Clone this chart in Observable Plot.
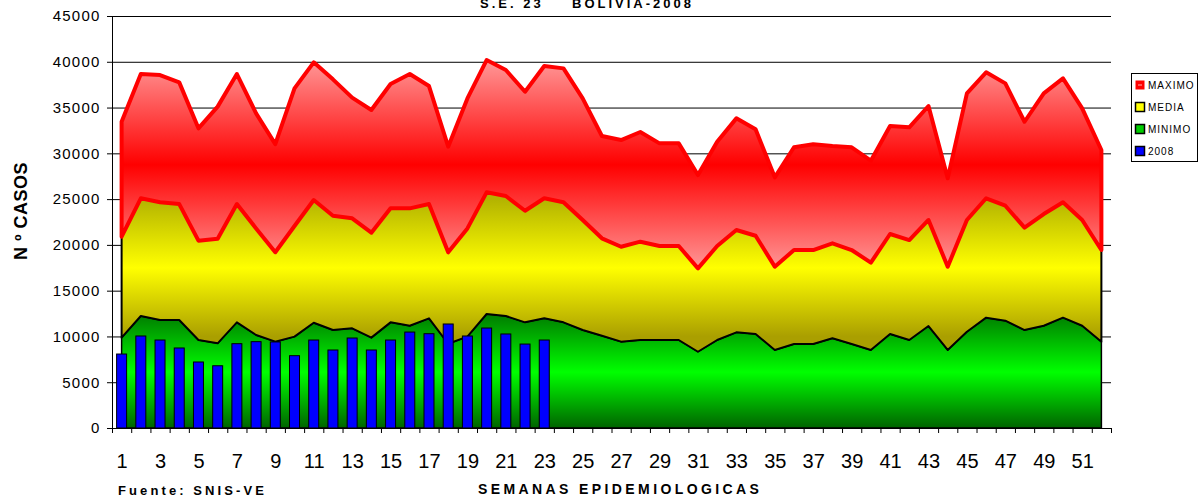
<!DOCTYPE html>
<html>
<head>
<meta charset="utf-8">
<script src="https://cdn.jsdelivr.net/npm/d3@7"></script>
<script src="https://cdn.jsdelivr.net/npm/@observablehq/plot@0.6"></script>
<style>
  body { margin: 0; background: #fff; }
  #wrap { position: relative; width: 1199px; height: 499px; overflow: hidden; background: #fff; }
  #wrap svg.overlay { position: absolute; left: 0; top: 0; pointer-events: none; font-family: "Liberation Sans", Arial, sans-serif; }
  #wrap g[aria-label="y-axis tick label"] text { letter-spacing: 1.2px; }
</style>
</head>
<body>
<div id="wrap"></div>
<script>
// ---- data ----
const weeks = d3.range(1, 53);
const maximo = [33450,38660,38550,37750,32730,35100,38660,34370,31000,37100,
                39940,38080,36080,34730,37570,38660,37350,30730,36000,40190,
                39100,36730,39540,39280,36000,31890,31450,32330,31090,31090,
                27630,31270,33820,32620,27380,30660,31000,30800,30660,29200,
                32980,32840,35170,27270,36550,38850,37640,33450,36550,38190,
                34910,30360];
const media = [20900,25090,24650,24460,20460,20680,24460,21800,19200,22060,
               24900,23190,22900,21330,23990,23990,24460,19190,21800,25740,
               25340,23730,25090,24650,22720,20720,19800,20350,19880,19880,
               17440,19880,21630,21000,17620,19440,19440,20170,19440,18060,
               21190,20530,22720,17620,22720,25090,24280,21880,23370,24650,
               22720,19440];
const minimo = [9870,12230,11800,11800,9610,9250,11540,10160,9430,9980,
                11500,10700,10890,9870,11540,11170,11980,9200,9980,12450,
                12230,11540,11980,11540,10700,10080,9430,9610,9610,9610,
                8330,9610,10450,10270,8520,9170,9170,9800,9170,8520,
                10270,9610,11140,8520,10520,12050,11720,10700,11170,12050,
                11170,9430];
const casos2008 = [8080,10050,9610,8740,7210,6800,9210,9430,9400,7900,
                   9610,8520,9830,8520,9610,10480,10300,11360,10050,10920,
                   10270,9170,9610];
const yTicks = d3.range(0, 45001, 5000);
const gridValues = d3.range(5000, 45001, 5000);
const xLabelTicks = d3.range(1, 53, 2);
const xBoundaries = d3.range(0.5, 53, 1);
const legendItems = ["MAXIMO", "MEDIA", "MINIMO", "2008"];
const legendColors = ["#ff0000", "#ffff00", "#00cc00", "#0000ff"];

const data = weeks.map((w, i) => ({week: w, max: maximo[i], media: media[i], min: minimo[i]}));
const bars = casos2008.map((v, i) => ({week: i + 1, value: v}));

const plot = Plot.plot({
  width: 1199,
  height: 499,
  marginLeft: 112,
  marginRight: 88,
  marginTop: 16,
  marginBottom: 71,
  style: {fontFamily: "'Liberation Sans', Arial, sans-serif", background: "#fff", color: "#000"},
  x: {type: "linear", domain: [0.5, 52.5], axis: null},
  y: {domain: [0, 45000], axis: null},
  marks: [
    Plot.ruleY(gridValues, {stroke: "#000", strokeWidth: 1}),
    Plot.area(data, {x1: "week", y1: 0, y2: "min", fill: "url(#gGreen)", stroke: "#000", strokeWidth: 1.5}),
    Plot.area(data, {x1: "week", y1: "min", y2: "media", fill: "url(#gYellow)", stroke: "#000", strokeWidth: 2}),
    Plot.area(data, {x1: "week", y1: "media", y2: "max", fill: "url(#gRed)", stroke: "#ff0000", strokeWidth: 4}),
    Plot.rect(bars, {x1: d => d.week - 0.26, x2: d => d.week + 0.26, y1: 0, y2: "value", fill: "#0000ff", stroke: "#000", strokeWidth: 1}),
    Plot.ruleX([0.5], {stroke: "#000", strokeWidth: 1}),
    Plot.ruleY([0], {stroke: "#000", strokeWidth: 1}),
    Plot.axisY(yTicks, {tickSize: 5, tickPadding: 7, tickFormat: d => String(d), fontSize: 15, label: null}),
    Plot.axisX(xBoundaries, {tickSize: 5, tickFormat: () => "", label: null}),
    Plot.axisX(xLabelTicks, {tickSize: 0, tickPadding: 25, fontSize: 20, tickFormat: d => String(d), label: null})
  ]
});

// gradients positioned with the plot's own y scale
const ys = plot.scale("y");
const NS = "http://www.w3.org/2000/svg";
const defs = document.createElementNS(NS, "defs");
function grad(id, v1, v2, stops) {
  const g = document.createElementNS(NS, "linearGradient");
  g.setAttribute("id", id);
  g.setAttribute("gradientUnits", "userSpaceOnUse");
  g.setAttribute("x1", 0); g.setAttribute("x2", 0);
  g.setAttribute("y1", ys.apply(v1)); g.setAttribute("y2", ys.apply(v2));
  for (const [o, c] of stops) {
    const s = document.createElementNS(NS, "stop");
    s.setAttribute("offset", o); s.setAttribute("stop-color", c);
    g.appendChild(s);
  }
  defs.appendChild(g);
}
grad("gRed", 41000, 16500, [[0, "#ffa3a3"], [0.5, "#ff0000"], [1, "#ffa3a3"]]);
grad("gYellow", 25000, 10000, [[0, "#b3b300"], [0.5, "#ffff00"], [1, "#aa9f00"]]);
grad("gGreen", 12200, 0, [[0, "#008000"], [0.5, "#00ff00"], [1, "#006400"]]);
plot.insertBefore(defs, plot.firstChild);

const wrap = document.getElementById("wrap");
wrap.appendChild(plot);

// overlay texts: title, y label, legend, footnotes
const ov = d3.select(wrap).append("svg").attr("class", "overlay").attr("width", 1199).attr("height", 499);
ov.append("text").attr("x", 480).attr("y", 8).attr("font-size", 13).attr("font-weight", "bold")
  .attr("letter-spacing", "3px").text("S.E. 23");
ov.append("text").attr("x", 572).attr("y", 8).attr("font-size", 13).attr("font-weight", "bold")
  .attr("letter-spacing", "3px").text("BOLIVIA-2008");
ov.append("text").attr("transform", "translate(27,211) rotate(-90)").attr("text-anchor", "middle")
  .attr("font-size", 18).attr("font-weight", "bold").attr("letter-spacing", "0.5px").text("N º CASOS");
ov.append("text").attr("x", 118).attr("y", 495).attr("font-size", 13).attr("font-weight", "bold")
  .attr("letter-spacing", "3.1px").text("Fuente: SNIS-VE");
ov.append("text").attr("x", 478).attr("y", 494).attr("font-size", 14).attr("font-weight", "bold")
  .attr("letter-spacing", "3.4px").text("SEMANAS EPIDEMIOLOGICAS");

// legend
ov.append("rect").attr("x", 1131.5).attr("y", 73.5).attr("width", 66).attr("height", 88)
  .attr("fill", "#fff").attr("stroke", "#000").attr("stroke-width", 1);
legendItems.forEach((name, i) => {
  const cy = 85 + i * 22;
  const r = ov.append("rect").attr("x", 1135.5).attr("y", cy - 4.5).attr("width", 9).attr("height", 9)
    .attr("fill", legendColors[i]);
  if (i === 0) {
    r.attr("stroke", "none");
    ov.append("line").attr("x1", 1138).attr("x2", 1142).attr("y1", cy).attr("y2", cy)
      .attr("stroke", "#ffb0b0").attr("stroke-width", 1);
  } else {
    r.attr("stroke", "#000").attr("stroke-width", 1.5);
  }
  ov.append("text").attr("x", 1148).attr("y", cy + 3.6).attr("font-size", 10)
    .attr("letter-spacing", "1px").text(name);
});
</script>
</body>
</html>
